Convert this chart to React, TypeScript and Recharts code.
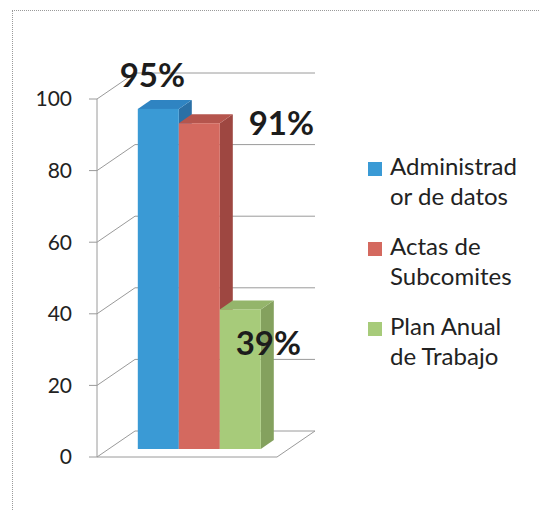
import React from 'react';
import {
  BarChart,
  Bar,
  XAxis,
  YAxis,
  CartesianGrid,
  ReferenceLine,
  LabelList,
  Legend,
} from 'recharts';

// chart values
const categories = ['Avance'];
const seriesKeys = ['admin', 'actas', 'plan'];
const seriesNames = ['Administrador de datos', 'Actas de Subcomites', 'Plan Anual de Trabajo'];
const seriesValues = [95, 91, 39];
const yTicks = [0, 20, 40, 60, 80, 100];

// colours: front, side, top
const frontColors = ['#3A9AD5', '#D4695F', '#A7CB7A'];
const sideColors = ['#2A70A6', '#9E4741', '#84A15E'];
const topColors = ['#2F84C2', '#B5554D', '#94B56B'];

// 3D look
const WALL_DX = 38;
const WALL_DY = -26;
const BAR_DX = 12;
const BAR_DY = -8;
const SIDE_DX = 13;
const SIDE_DY = -9;
const GRID_COLOR = '#9a9a9a';

// where each data label sits, relative to the bar's top centre
const labelOffsets = [
  { dx: 6, dy: -30 },
  { dx: 94, dy: 4 },
  { dx: 40, dy: 38 },
];

const data = categories.map((name) => {
  const row: Record<string, string | number> = { name };
  seriesKeys.forEach((key, i) => {
    row[key] = seriesValues[i];
  });
  return row;
});

const makeBarShape = (index: number) => (props: any) => {
  const { x, y, width, height } = props;
  if (x == null || y == null || !width || !height) return null;
  const fx = x + BAR_DX;
  const fy = y + BAR_DY;
  const side = [
    [fx + width, fy],
    [fx + width + SIDE_DX, fy + SIDE_DY],
    [fx + width + SIDE_DX, fy + height + SIDE_DY],
    [fx + width, fy + height],
  ];
  const top = [
    [fx, fy],
    [fx + SIDE_DX, fy + SIDE_DY],
    [fx + width + SIDE_DX, fy + SIDE_DY],
    [fx + width, fy],
  ];
  return (
    <g>
      <polygon points={side.map((p) => p.join(',')).join(' ')} fill={sideColors[index]} />
      <polygon points={top.map((p) => p.join(',')).join(' ')} fill={topColors[index]} />
      <rect x={fx} y={fy} width={width} height={height} fill={frontColors[index]} />
    </g>
  );
};

const makeLabel = (index: number) => (props: any) => {
  const vb = props.viewBox || {};
  const x = vb.x ?? props.x;
  const y = vb.y ?? props.y;
  const width = vb.width ?? props.width;
  if (x == null || y == null) return null;
  const off = labelOffsets[index];
  return (
    <text
      x={x + width / 2 + off.dx}
      y={y + off.dy}
      textAnchor="middle"
      fontSize={33}
      fontWeight="bold"
      fill="#1c1c1c"
    >
      {`${props.value}%`}
    </text>
  );
};

// back wall lines plus the slanted lines running from the front axis
const renderGridLine = (props: any) => {
  const { x1, y1, x2, y2 } = props;
  return (
    <g key={props.key ?? `grid-${y1}`}>
      <line x1={x1} y1={y1} x2={x1 + WALL_DX} y2={y1 + WALL_DY} stroke={GRID_COLOR} />
      <line
        x1={x1 + WALL_DX}
        y1={y1 + WALL_DY}
        x2={x2 + WALL_DX}
        y2={y2 + WALL_DY}
        stroke={GRID_COLOR}
      />
    </g>
  );
};

const renderFloor = (props: any) => {
  const { x1, y1, x2, y2 } = props;
  return (
    <g>
      <line x1={x1} y1={y1} x2={x2} y2={y2} stroke={GRID_COLOR} />
      <line x1={x2} y1={y2} x2={x2 + WALL_DX} y2={y2 + WALL_DY} stroke={GRID_COLOR} />
    </g>
  );
};

const renderLegend = (props: any) => {
  const { payload } = props;
  if (!payload || !Array.isArray(payload)) return null;
  // keep the series order rather than alphabetical
  const ordered = [...payload].sort(
    (a: any, b: any) => seriesNames.indexOf(a?.value) - seriesNames.indexOf(b?.value)
  );
  return (
    <div style={{ display: 'flex', flexDirection: 'column', gap: 20 }}>
      {ordered.map((entry: any, index: number) => (
        <div key={index} style={{ display: 'flex', alignItems: 'flex-start' }}>
          <div
            style={{
              width: 14,
              height: 14,
              marginTop: 11,
              marginRight: 8,
              flexShrink: 0,
              backgroundColor: entry?.color,
            }}
          />
          <div
            style={{
              width: 134,
              fontSize: 24,
              lineHeight: '30px',
              color: '#222',
              overflowWrap: 'anywhere',
            }}
          >
            {entry?.value}
          </div>
        </div>
      ))}
    </div>
  );
};

export default function App() {
  return (
    <div
      style={{
        position: 'absolute',
        left: 0,
        top: 0,
        width: 539,
        height: 510,
        background: '#fff',
        fontFamily: 'Lato, "Noto Sans", sans-serif',
      }}
    >
      <div
        style={{
          position: 'absolute',
          left: 12,
          top: 10,
          right: 0,
          bottom: 0,
          borderTop: '1px dotted #9a9a9a',
          borderLeft: '1px dotted #9a9a9a',
        }}
      />
      <BarChart
        width={539}
        height={510}
        data={data}
        margin={{ top: 99, right: 262, bottom: 53, left: 37 }}
        barCategoryGap="16%"
        barGap={0}
      >
        <CartesianGrid vertical={false} horizontal={renderGridLine} />
        <XAxis dataKey="name" hide />
        <YAxis
          width={60}
          domain={[0, 100]}
          ticks={yTicks}
          interval={0}
          tickSize={8}
          tickMargin={17}
          axisLine={{ stroke: GRID_COLOR }}
          tickLine={{ stroke: GRID_COLOR }}
          tick={{ fill: '#222', fontSize: 21 }}
        />
        <ReferenceLine y={0} shape={renderFloor} />
        {seriesKeys.map((key, i) => (
          <Bar
            key={key}
            dataKey={key}
            name={seriesNames[i]}
            fill={frontColors[i]}
            shape={makeBarShape(i)}
            isAnimationActive={false}
          >
            <LabelList dataKey={key} content={makeLabel(i)} />
          </Bar>
        ))}
        <Legend
          layout="vertical"
          align="center"
          verticalAlign="middle"
          content={renderLegend}
          wrapperStyle={{ left: 368, top: 151, width: 170 }}
        />
      </BarChart>
    </div>
  );
}
